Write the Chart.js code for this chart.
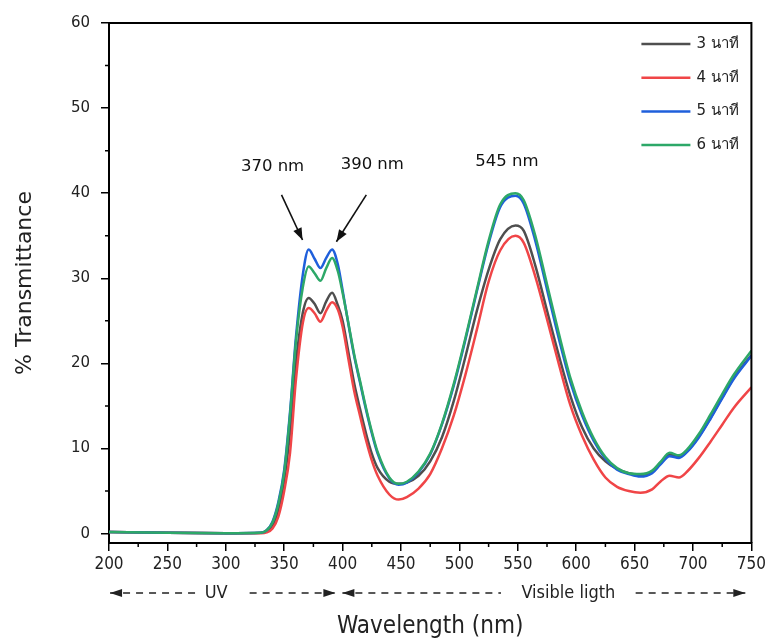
<!DOCTYPE html>
<html>
<head>
<meta charset="utf-8">
<script src="https://cdn.jsdelivr.net/npm/chart.js@4.4.1/dist/chart.umd.min.js"></script>
<style>
html,body{margin:0;padding:0;background:#fff;}
</style>
</head>
<body>
<canvas id="spectrum" width="769" height="641"></canvas>
<script>
// wavelength (nm) and % transmittance
var wavelengths=[200,250,300,330,335,340,345,350,355,360,366,371,376,381,386,391,396,400,405,410,415,420,425,430,440,448,455,465,475,485,495,505,515,525,535,548,555,565,575,585,595,605,615,625,635,645,655,665,672,680,688,695,705,715,725,735,750];
var min3=[0.2,0.1,0.05,0.1,0.3,0.9,2.8,6.2,12,20,26,27.7,27,25.9,27.3,28.3,26.8,
    25,21.3,17.6,14.6,11.8,9.4,7.7,6.1,5.85,
    6,6.8,8.5,11.3,15.5,20.7,26.2,31,34.6,
    36.2,35.6,31.5,26.2,21,16.2,12.5,10,8.5,7.6,7.1,6.9,7.3,
    8.3,9.3,9,9.7,11.4,13.6,16,18.3,21];
var min4=[0.2,0.1,0.05,0.05,0.15,0.6,2,5,9.5,18,24.8,26.5,25.9,24.9,26.2,27.2,26.3,
    24.3,20.5,16.7,13.8,11,8.6,6.8,4.6,4.0,
    4.3,5.3,7,10,13.8,18.6,24,29.6,33.3,
    35,34.2,30.2,25.2,20,15.1,11.5,8.7,6.6,5.5,5,4.8,5.2,
    6.1,6.8,6.6,7.3,8.9,10.8,12.8,14.8,17.2];
var min5=[0.2,0.1,0.05,0.1,0.4,1.4,3.7,7.5,14.3,23,30.5,33.4,32.3,31.2,32.4,33.4,31.6,
    28.6,24.6,20.8,17.7,14.6,11.8,9.4,6.5,5.75,
    6,7.2,9.3,12.8,17.3,22.7,28.5,34.1,38.4,
    39.7,38.8,34.4,28.7,23,17.8,13.9,10.9,8.8,7.5,7,6.7,7.1,
    8.1,9.1,8.9,9.6,11.3,13.5,15.9,18.2,20.9];
var min6=[0.2,0.1,0.05,0.1,0.4,1.3,3.5,7.2,14,22.5,29,31.4,30.6,29.7,31.2,32.4,30.8,
    28.3,24.7,21,17.9,14.8,12,9.6,6.6,5.85,
    6.1,7.3,9.4,12.9,17.5,22.9,28.7,34.4,38.7,
    40,39.2,35,29.3,23.6,18.3,14.3,11.2,9,7.7,7.1,7,7.4,
    8.4,9.5,9.2,9.9,11.7,14,16.4,18.7,21.5];
var seriesLabels=['3 นาที','4 นาที','5 นาที','6 นาที'];
var xTicks=[200,250,300,350,400,450,500,550,600,650,700,750];
var xMinor=[225,275,325,375,425,475,525,575,625,675,725];
var yTicks=[0,10,20,30,40,50,60];
var yMinor=[5,15,25,35,45,55];

var condensed="'DejaVu Sans Condensed','DejaVu Sans',sans-serif";

function series(label,values,color,order){
    return {
        label:label,
        data:wavelengths.map((w,i)=>({x:w,y:values[i]})),
        borderColor:color,
        borderWidth:2.5,
        pointRadius:0,
        cubicInterpolationMode:'monotone',
        order:order
    };
}

// top/right frame, minor ticks
var framePlugin={
    id:'frame',
    afterDraw(chart){
        var ctx=chart.ctx, a=chart.chartArea, x=chart.scales.x, y=chart.scales.y;
        ctx.save();
        ctx.strokeStyle='#000';
        ctx.lineWidth=2;
        ctx.beginPath();
        ctx.moveTo(a.left,a.top);
        ctx.lineTo(a.right,a.top);
        ctx.lineTo(a.right,a.bottom);
        ctx.stroke();
        ctx.lineWidth=1.5;
        ctx.beginPath();
        xMinor.forEach(v=>{
            var px=x.getPixelForValue(v);
            ctx.moveTo(px,a.bottom);
            ctx.lineTo(px,a.bottom+4);
        });
        yMinor.forEach(v=>{
            var py=y.getPixelForValue(v);
            ctx.moveTo(a.left,py);
            ctx.lineTo(a.left-4,py);
        });
        ctx.stroke();
        ctx.restore();
    }
};

function arrowHead(ctx,x1,y1,x2,y2,len,half){
    var ang=Math.atan2(y2-y1,x2-x1);
    ctx.beginPath();
    ctx.moveTo(x2,y2);
    ctx.lineTo(x2-len*Math.cos(ang)+half*Math.sin(ang),y2-len*Math.sin(ang)-half*Math.cos(ang));
    ctx.lineTo(x2-len*Math.cos(ang)-half*Math.sin(ang),y2-len*Math.sin(ang)+half*Math.cos(ang));
    ctx.closePath();
    ctx.fill();
}

// peak labels and arrows, in data units
var peakNotes=[
    {text:'370 nm',x:340,y:43.1,from:[347.7,39.8],to:[365.7,34.5]},
    {text:'390 nm',x:425.4,y:43.3,from:[420.3,39.8],to:[394.7,34.3]},
    {text:'545 nm',x:540.7,y:43.7}
];
// UV / visible bands under the axis
var bands=[
    {text:'UV',center:291.8,left:[200.9,276.4],right:[320.4,393.8]},
    {text:'Visible ligth',center:593.3,left:[399.8,535.6],right:[650.9,744.8]}
];

var notesPlugin={
    id:'notes',
    afterDraw(chart){
        var ctx=chart.ctx, a=chart.chartArea, x=chart.scales.x, y=chart.scales.y;
        ctx.save();
        ctx.fillStyle='#111';
        ctx.strokeStyle='#111';
        ctx.textAlign='center';
        ctx.textBaseline='middle';
        ctx.font="16.5px 'DejaVu Sans'";
        peakNotes.forEach(n=>{
            ctx.fillText(n.text,x.getPixelForValue(n.x),y.getPixelForValue(n.y));
            if(n.from){
                var x1=x.getPixelForValue(n.from[0]),y1=y.getPixelForValue(n.from[1]);
                var x2=x.getPixelForValue(n.to[0]),y2=y.getPixelForValue(n.to[1]);
                ctx.lineWidth=1.6;
                ctx.beginPath();
                ctx.moveTo(x1,y1);
                ctx.lineTo(x2,y2);
                ctx.stroke();
                arrowHead(ctx,x1,y1,x2,y2,12,4.5);
            }
        });

        var by=a.bottom+50;
        ctx.font="18px "+condensed;
        ctx.fillStyle='#222';
        ctx.strokeStyle='#222';
        bands.forEach(b=>{
            ctx.fillText(b.text,x.getPixelForValue(b.center),by);
            ctx.lineWidth=1.5;
            ctx.setLineDash([7,6]);
            [b.left,b.right].forEach(seg=>{
                ctx.beginPath();
                ctx.moveTo(x.getPixelForValue(seg[0]),by);
                ctx.lineTo(x.getPixelForValue(seg[1]),by);
                ctx.stroke();
            });
            ctx.setLineDash([]);
            var l0=x.getPixelForValue(b.left[0]), r1=x.getPixelForValue(b.right[1]);
            arrowHead(ctx,l0+10,by,l0,by,12,4);
            arrowHead(ctx,r1-10,by,r1,by,12,4);
        });

        // legend
        ctx.font="15px 'DejaVu Sans'";
        ctx.textAlign='left';
        chart.data.datasets.forEach((ds,i)=>{
            var ly=a.top+21+i*33.7;
            ctx.strokeStyle=ds.borderColor;
            ctx.lineWidth=2.5;
            ctx.beginPath();
            ctx.moveTo(a.right-110,ly);
            ctx.lineTo(a.right-61,ly);
            ctx.stroke();
            ctx.fillStyle='#222';
            ctx.fillText(ds.label,a.right-55,ly);
        });
        ctx.restore();
    }
};

new Chart(document.getElementById('spectrum'),{
    type:'line',
    data:{
        datasets:[
            series(seriesLabels[0],min3,'#4f4f4f',3),
            series(seriesLabels[1],min4,'#f04547',2),
            series(seriesLabels[2],min5,'#1f5fdb',1),
            series(seriesLabels[3],min6,'#2da868',0)
        ]
    },
    options:{
        responsive:false,
        animation:false,
        layout:{padding:{top:23,right:16,left:0,bottom:0}},
        plugins:{legend:{display:false},tooltip:{enabled:false}},
        scales:{
            x:{
                type:'linear',min:200,max:750,
                afterBuildTicks:s=>{ s.ticks=xTicks.map(v=>({value:v})); },
                afterFit:s=>{ s.height=98; },
                grid:{drawOnChartArea:false,tickLength:8,color:'#000',lineWidth:1.5},
                border:{color:'#000',width:2},
                ticks:{font:{family:condensed,size:17},color:'#222',padding:3,maxRotation:0},
                title:{display:true,text:'Wavelength (nm)',font:{family:condensed,size:24},color:'#222',padding:{top:0,bottom:0}}
            },
            y:{
                min:-1.1,max:60,
                afterBuildTicks:s=>{ s.ticks=yTicks.map(v=>({value:v})); },
                afterFit:s=>{ s.width=109; },
                grid:{drawOnChartArea:false,tickLength:8,color:'#000',lineWidth:1.5},
                border:{color:'#000',width:2},
                ticks:{font:{family:'DejaVu Sans',size:15},color:'#222',padding:11},
                title:{display:true,text:'% Transmittance',font:{family:'DejaVu Sans',size:22},color:'#222',padding:{top:12,bottom:0}}
            }
        }
    },
    plugins:[framePlugin,notesPlugin]
});
</script>
</body>
</html>
